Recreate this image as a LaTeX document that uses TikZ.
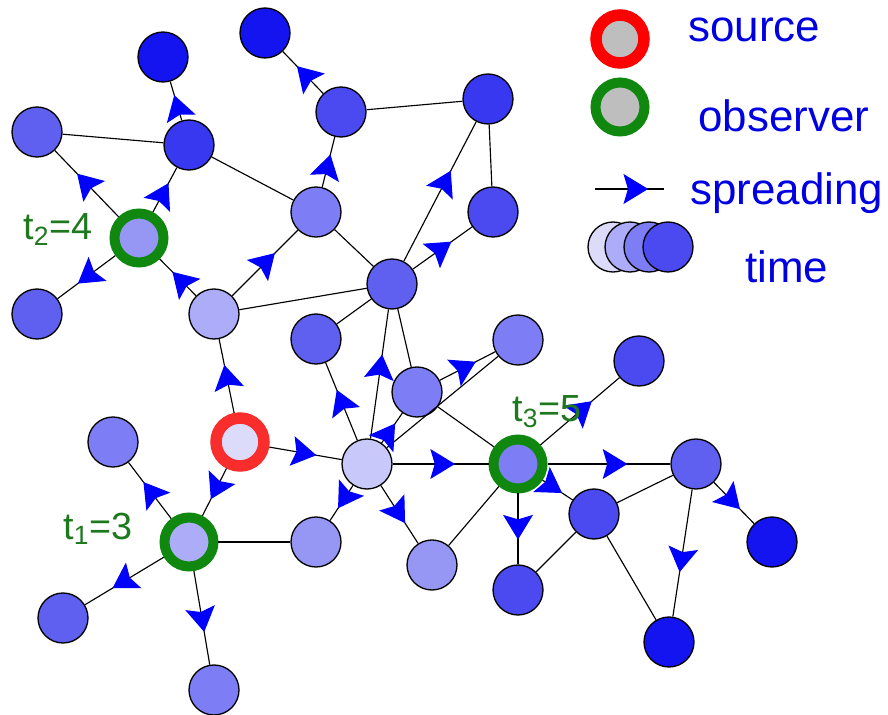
\documentclass[tikz,border=0pt]{standalone}
\usepackage{fontspec}
\setmainfont{Liberation Sans}
\usetikzlibrary{arrows.meta, decorations.markings}

\definecolor{tone1}{RGB}{220,220,250}
\definecolor{tone2}{RGB}{200,200,250}
\definecolor{tone3}{RGB}{172,172,248}
\definecolor{tone4}{RGB}{150,150,245}
\definecolor{tone5}{RGB}{125,125,245}
\definecolor{tone6}{RGB}{95,95,240}
\definecolor{tone7}{RGB}{74,74,240}
\definecolor{tone8}{RGB}{56,56,240}
\definecolor{tone9}{RGB}{20,20,240}
\definecolor{obsgreen}{RGB}{16,136,16}
\definecolor{srcred}{RGB}{250,45,45}
\definecolor{labgreen}{RGB}{30,120,30}
\definecolor{legblue}{RGB}{0,0,225}
\definecolor{holdgray}{RGB}{190,190,190}

\tikzstyle{vertex} = [circle, draw=black, line width=0.75pt, minimum size=1cm, inner sep=0pt]
\tikzstyle{observer} = [circle, draw=obsgreen, line width=0.2cm, minimum size=0.98cm, inner sep=0pt]
\tikzstyle{source} = [circle, draw=srcred, line width=0.23cm, minimum size=0.96cm, inner sep=0pt]
\tikzstyle{link} = [line width=0.65pt]
\tikzstyle{spread} = [link, postaction={decorate}, decoration={markings, mark=at position 0.65 with {\arrow{Stealth[length=14pt, width=17pt, inset=2.5pt, color=blue]}}}]
\tikzstyle{legspread} = [link, postaction={decorate}, decoration={markings, mark=at position 0.77 with {\arrow{Stealth[length=14pt, width=17pt, inset=2.5pt, color=blue]}}}]
\tikzstyle{legtext} = [text=legblue, font=\fontsize{25}{30}\selectfont, anchor=base west, inner sep=0pt]
\tikzstyle{tlabel} = [text=labgreen, font=\fontsize{21.5}{26}\selectfont, anchor=base west, inner sep=0pt]

\begin{document}
\begin{tikzpicture}[x=0.02cm, y=-0.02cm]
\useasboundingbox (0,0) rectangle (888,715);

\node (va) [vertex, fill=tone9] at (163,57) {};
\node (vb) [vertex, fill=tone9] at (265,33) {};
\node (vc) [vertex, fill=tone6] at (37,132) {};
\node (vd) [vertex, fill=tone8] at (189,145) {};
\node (ve) [vertex, fill=tone7] at (341,112) {};
\node (obs2) [observer, fill=tone4] at (139,238) {};
\node (vg) [vertex, fill=tone5] at (316,212) {};
\node (vh) [vertex, fill=tone6] at (37,314) {};
\node (vi) [vertex, fill=tone3] at (214,314) {};
\node (vj) [vertex, fill=tone6] at (392,284) {};
\node (vk) [vertex, fill=tone6] at (316,339) {};
\node (vl) [vertex, fill=tone8] at (488,99) {};
\node (vm) [vertex, fill=tone7] at (493,212) {};
\node (vn) [vertex, fill=tone5] at (417,392) {};
\node (src) [source, fill=tone1] at (240,442) {};
\node (vp) [vertex, fill=tone5] at (113,442) {};
\node (hub) [vertex, fill=tone2] at (367,464) {};
\node (obs1) [observer, fill=tone3] at (189,542) {};
\node (vr) [vertex, fill=tone4] at (316,542) {};
\node (vt) [vertex, fill=tone6] at (63,618) {};
\node (vu) [vertex, fill=tone5] at (214,690) {};
\node (vv) [vertex, fill=tone4] at (432,565) {};
\node (vw) [vertex, fill=tone5] at (518,340) {};
\node (vx) [vertex, fill=tone7] at (639,361) {};
\node (obs3) [observer, fill=tone5] at (518,464) {};
\node (vy) [vertex, fill=tone6] at (696,464) {};
\node (vz) [vertex, fill=tone7] at (594,514) {};
\node (vaa) [vertex, fill=tone9] at (772,542) {};
\node (vbb) [vertex, fill=tone7] at (518,590) {};
\node (vcc) [vertex, fill=tone9] at (669,642) {};

\draw [link] (vc) -- (vd);
\draw [link] (vd) -- (vg);
\draw [link] (ve) -- (vl);
\draw [link] (vg) -- (vj);
\draw [link] (vi) -- (vj);
\draw [link] (vl) -- (vm);
\draw [link] (vk) -- (vj);
\draw [link] (vj) -- (vn);
\draw [link] (obs1) -- (vr);
\draw [link] (hub) -- (vw);
\draw [link] (vn) -- (obs3);
\draw [link] (vv) -- (obs3);
\draw [link] (vz) -- (vy);
\draw [link] (vz) -- (vbb);
\draw [link] (vz) -- (vcc);

\draw [spread] (vd) -- (va);
\draw [spread] (ve) -- (vb);
\draw [spread] (obs2) -- (vc);
\draw [spread] (obs2) -- (vd);
\draw [spread] (obs2) -- (vh);
\draw [spread] (vg) -- (ve);
\draw [spread] (vi) -- (obs2);
\draw [spread] (vi) -- (vg);
\draw [spread] (vj) -- (vl);
\draw [spread] (vj) -- (vm);
\draw [spread] (hub) -- (vj);
\draw [spread] (src) -- (vi);
\draw [spread] (src) -- (hub);
\draw [spread] (src) -- (obs1);
\draw [spread] (obs1) -- (vp);
\draw [spread] (obs1) -- (vt);
\draw [spread] (obs1) -- (vu);
\draw [spread] (hub) -- (vk);
\draw [spread] (hub) -- (vn);
\draw [spread] (vn) -- (vw);
\draw [spread] (hub) -- (obs3);
\draw [spread] (hub) -- (vr);
\draw [spread] (hub) -- (vv);
\draw [spread] (obs3) -- (vx);
\draw [spread] (obs3) -- (vy);
\draw [spread] (obs3) -- (vz);
\draw [spread] (obs3) -- (vbb);
\draw [spread] (vy) -- (vcc);
\draw [spread] (vy) -- (vaa);

\node (lab1) [tlabel] at (63,539) {t\textsubscript{1}=3};
\node (lab2) [tlabel] at (23,240) {t\textsubscript{2}=4};
\node (lab3) [tlabel] at (512,422) {t\textsubscript{3}=5};

\node (legsrc) [source, draw=red, fill=holdgray] at (620,39) {};
\node (legobs) [observer, fill=holdgray] at (620,107) {};
\coordinate (sp1) at (595,189);
\coordinate (sp2) at (664,189);
\draw [legspread] (sp1) -- (sp2);
\node (tm1) [vertex, fill=tone1] at (613,247) {};
\node (tm2) [vertex, fill=tone3] at (630,247) {};
\node (tm3) [vertex, fill=tone5] at (649,247) {};
\node (tm4) [vertex, fill=tone7] at (668,247) {};

\node (txsrc) [legtext] at (688,42) {source};
\node (txobs) [legtext] at (698,132) {observer};
\node (txspr) [legtext] at (690,205) {spreading};
\node (txtime) [legtext] at (745,283) {time};
\end{tikzpicture}
\end{document}
